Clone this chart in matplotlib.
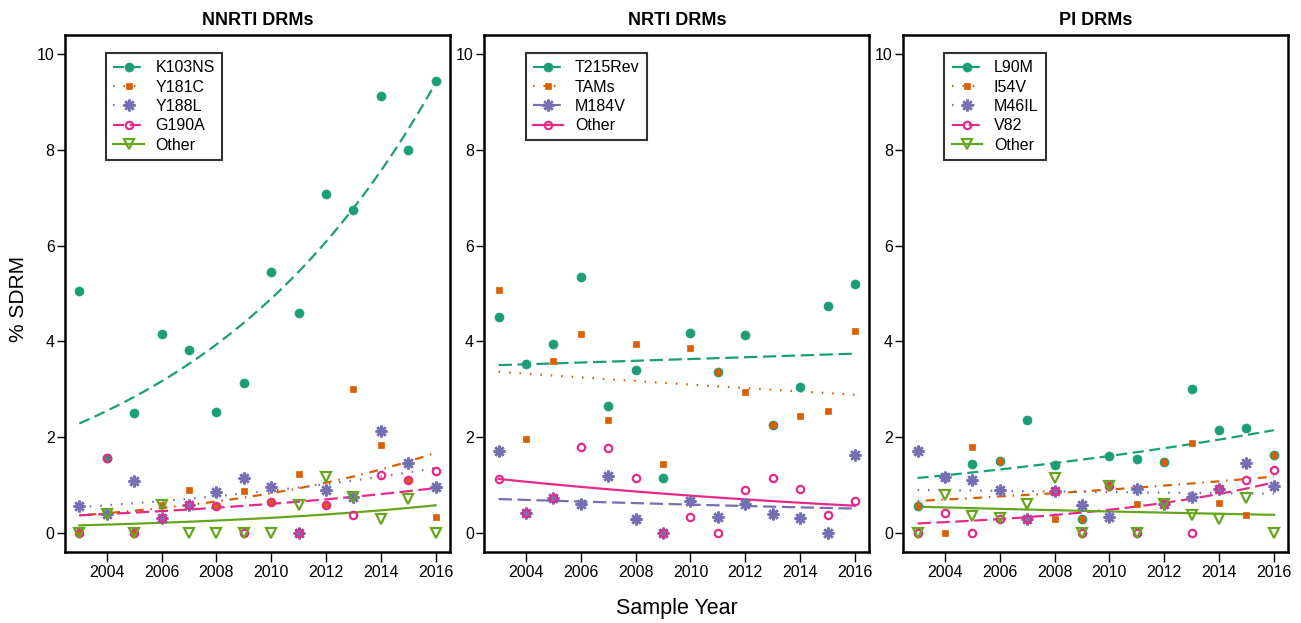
import numpy as np
import matplotlib
matplotlib.use("Agg")
import matplotlib.pyplot as plt
from matplotlib.lines import Line2D

plt.rcParams['font.family'] = ['Liberation Sans', 'DejaVu Sans']

years = [2003, 2004, 2005, 2006, 2007, 2008, 2009, 2010, 2011, 2012, 2013, 2014, 2015, 2016]

# NNRTI DRMs (% SDRM per year)
nnrti_labels = ['K103NS', 'Y181C', 'Y188L', 'G190A', 'Other']
k103ns = [5.05, 1.56, 2.50, 4.14, 3.81, 2.53, 3.13, 5.45, 4.58, 7.07, 6.75, 9.13, 8.00, 9.43]
y181c = [0.00, 0.38, 0.00, 0.58, 0.88, 0.56, 0.86, 0.64, 1.22, 0.58, 3.00, 1.82, 1.09, 0.32]
y188l = [0.56, 0.38, 1.08, 0.31, 0.58, 0.85, 1.14, 0.96, 0.00, 0.88, 0.74, 2.13, 1.45, 0.96]
g190a = [0.00, 1.56, 0.00, 0.31, 0.58, 0.56, 0.00, 0.64, 0.00, 0.58, 0.37, 1.21, 1.09, 1.29]
nnrti_other = [0.00, 0.38, 0.00, 0.58, 0.00, 0.00, 0.00, 0.00, 0.58, 1.16, 0.74, 0.29, 0.71, 0.00]
# fitted trend at 2003 and 2016 (log-linear fit)
nnrti_fit_start = [2.28, 0.36, 0.53, 0.36, 0.15]
nnrti_fit_end = [9.40, 1.67, 1.35, 0.93, 0.57]

# NRTI DRMs
nrti_labels = ['T215Rev', 'TAMs', 'M184V', 'Other']
t215rev = [4.50, 3.52, 3.95, 5.34, 2.65, 3.39, 1.14, 4.18, 3.36, 4.13, 2.25, 3.05, 4.73, 5.20]
tams = [5.06, 1.96, 3.58, 4.15, 2.35, 3.95, 1.44, 3.86, 3.36, 2.94, 2.25, 2.44, 2.55, 4.22]
m184v = [1.70, 0.40, 0.72, 0.59, 1.18, 0.29, 0.00, 0.65, 0.32, 0.59, 0.38, 0.31, 0.00, 1.63]
nrti_other = [1.12, 0.40, 0.72, 1.79, 1.76, 1.13, 0.00, 0.32, 0.00, 0.88, 1.13, 0.91, 0.36, 0.65]
nrti_fit_start = [3.50, 3.36, 0.70, 1.12]
nrti_fit_end = [3.74, 2.88, 0.50, 0.56]

# PI DRMs
pi_labels = ['L90M', 'I54V', 'M46IL', 'V82', 'Other']
l90m = [0.56, 1.17, 1.44, 1.49, 2.36, 1.42, 0.29, 1.61, 1.53, 1.47, 3.00, 2.14, 2.18, 1.63]
i54v = [0.56, 0.00, 1.79, 1.49, 0.29, 0.29, 0.29, 0.97, 0.59, 1.47, 1.88, 0.61, 0.37, 1.63]
m46il = [1.70, 1.17, 1.09, 0.89, 0.29, 0.86, 0.57, 0.33, 0.92, 0.59, 0.75, 0.92, 1.45, 0.97]
v82 = [0.00, 0.40, 0.00, 0.29, 0.29, 0.86, 0.00, 0.97, 0.00, 0.59, 0.00, 0.92, 1.09, 1.30]
pi_other = [0.00, 0.78, 0.35, 0.31, 0.59, 1.13, 0.00, 0.97, 0.00, 0.59, 0.36, 0.29, 0.72, 0.00]
pi_fit_start = [1.14, 0.66, 0.89, 0.19, 0.54]
pi_fit_end = [2.14, 1.17, 0.81, 1.05, 0.37]

# Dark2 colours
green, orange, purple, pink, lgreen = '#1B9E77', '#D95F02', '#7570B3', '#E7298A', '#66A61E'

DASHED = (0, (5, 2.5))
DOTTED = (0, (0.7, 4))
DOTDASH = (0, (0.7, 3, 4, 3))
LONGDASH = (0, (6, 2.5))
SOLID = '-'

# marker styles: (marker, size, filled)
mk_circle = ('o', 6.5, True)
mk_square = ('s', 4.5, True)
mk_star = ((8, 2, 0), 8.5, True)
mk_open = ('o', 5.3, False)
mk_tri = ('v', 7.5, False)

panels = [
    ('NNRTI DRMs', nnrti_labels, [k103ns, y181c, y188l, g190a, nnrti_other],
     [green, orange, purple, pink, lgreen],
     [mk_circle, mk_square, mk_star, mk_open, mk_tri],
     [DASHED, DOTDASH, DOTTED, LONGDASH, SOLID],
     [DASHED, DOTTED, DOTTED, DASHED, SOLID],
     nnrti_fit_start, nnrti_fit_end),
    ('NRTI DRMs', nrti_labels, [t215rev, tams, m184v, nrti_other],
     [green, orange, purple, pink],
     [mk_circle, mk_square, mk_star, mk_open],
     [LONGDASH, DOTTED, LONGDASH, SOLID],
     [DASHED, DOTTED, DASHED, SOLID],
     nrti_fit_start, nrti_fit_end),
    ('PI DRMs', pi_labels, [l90m, i54v, m46il, v82, pi_other],
     [green, orange, purple, pink, lgreen],
     [mk_circle, mk_square, mk_star, mk_open, mk_tri],
     [DASHED, DOTDASH, DOTTED, LONGDASH, SOLID],
     [DASHED, DOTTED, DOTTED, DASHED, SOLID],
     pi_fit_start, pi_fit_end),
]

fig = plt.figure(figsize=(13.01, 6.23), dpi=100)
lefts = [0.0500, 0.3723, 0.6943]
x = np.array(years)
xs = np.linspace(years[0], years[-1], 100)

for left, (title, labels, series, colors, markers, fit_ls, leg_ls, f0, f1) in zip(lefts, panels):
    ax = fig.add_axes([left, 0.1145, 0.2958, 0.8293])
    for vals, col, (m, ms, filled), ls, a, b in zip(series, colors, markers, fit_ls, f0, f1):
        # log-linear trend drawn from fitted end values
        fit = a * (b / a) ** ((xs - years[0]) / (years[-1] - years[0]))
        ax.plot(xs, fit, color=col, lw=1.6, linestyle=ls, zorder=2)
        if filled:
            ax.plot(x, vals, linestyle='none', marker=m, ms=ms, color=col,
                    mec=col, mew=1.8 if m == (8, 2, 0) else 0.5, zorder=3)
        else:
            ax.plot(x, vals, linestyle='none', marker=m, ms=ms, mfc='none',
                    mec=col, mew=1.6, zorder=3)
    handles = []
    for lab, col, (m, ms, filled), ls in zip(labels, colors, markers, leg_ls):
        handles.append(Line2D([], [], color=col, lw=1.6, linestyle=ls, marker=m,
                              ms=ms, mfc=col if filled else 'none', mec=col,
                              mew=1.8 if m == (8, 2, 0) else (1.6 if not filled else 0.5),
                              label=lab))
    leg = ax.legend(handles=handles, loc='upper left', bbox_to_anchor=(0.107, 0.965),
                    fontsize=11.5, frameon=True, fancybox=False, edgecolor='black',
                    handlelength=1.9, handletextpad=0.75, labelspacing=0.27,
                    borderpad=0.45, borderaxespad=0, numpoints=1)
    leg.get_frame().set_linewidth(1.5)
    ax.set_xlim(2002.48, 2016.52)
    ax.set_ylim(-0.4, 10.4)
    ax.set_xticks(range(2004, 2017, 2))
    ax.set_yticks(range(0, 11, 2))
    ax.tick_params(axis='y', direction='out', length=6, width=1, labelsize=11.5, pad=1.5)
    ax.tick_params(axis='x', direction='out', length=7, width=1, labelsize=11.5, pad=2.5)
    for sp in ax.spines.values():
        sp.set_linewidth(1.8)
    ax.text(0.5, 1.012, title, transform=ax.transAxes, ha='center', va='bottom',
            fontsize=13, fontweight='bold')

fig.text(0.0145, 0.52, '% SDRM', rotation=90, ha='center', va='center', fontsize=15)
fig.text(0.52, 0.023, 'Sample Year', ha='center', va='center', fontsize=15.5)

fig.savefig('out.png', dpi=100)
